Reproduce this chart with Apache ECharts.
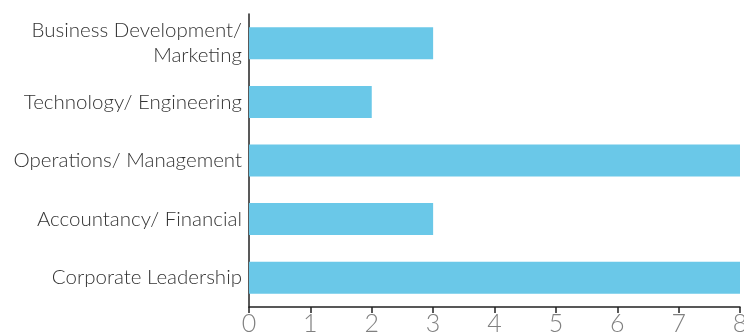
<!DOCTYPE html>
<html>
<head>
<meta charset="utf-8">
<script src="https://cdn.jsdelivr.net/npm/echarts@6/dist/echarts.min.js"></script>
<style>
  html, body { margin: 0; padding: 0; background: #fff; }
  #chart { width: 744px; height: 333px; }
</style>
</head>
<body>
<div id="chart"></div>
<script>
// categories from bottom to top (category axis on y starts at the bottom)
const categories = [
  'Corporate Leadership',
  'Accountancy/ Financial',
  'Operations/ Management',
  'Technology/ Engineering',
  'Business Development/\nMarketing'
]
const values = [8, 3, 8, 2, 3]
const xTicks = [0, 1, 2, 3, 4, 5, 6, 7, 8]

const chart = echarts.init(document.getElementById('chart'))

chart.setOption({
  animation: false,
  textStyle: { fontFamily: 'Lato, sans-serif' },
  grid: {
    left: 249, right: 4, top: 14, bottom: 26,
    containLabel: false, outerBoundsMode: 'none'
  },
  xAxis: {
    type: 'value',
    min: xTicks[0],
    max: xTicks[xTicks.length - 1],
    interval: 1,
    splitLine: { show: false },
    axisLine: { show: true, lineStyle: { color: '#222', width: 1.5 } },
    axisTick: { show: true, length: 6, lineStyle: { color: '#222', width: 1.5 } },
    axisLabel: { color: '#808080', fontSize: 25, fontWeight: 300, margin: 4 }
  },
  yAxis: {
    type: 'category',
    data: categories,
    axisLine: { show: true, lineStyle: { color: '#222', width: 1.5 } },
    axisTick: { show: false },
    axisLabel: {
      color: '#333', fontSize: 20.5, fontWeight: 300, margin: 7,
      align: 'right', lineHeight: 25
    }
  },
  series: [{
    type: 'bar',
    data: values,
    barWidth: 32,
    itemStyle: { color: '#6AC8E8' }
  }]
})
</script>
</body>
</html>
